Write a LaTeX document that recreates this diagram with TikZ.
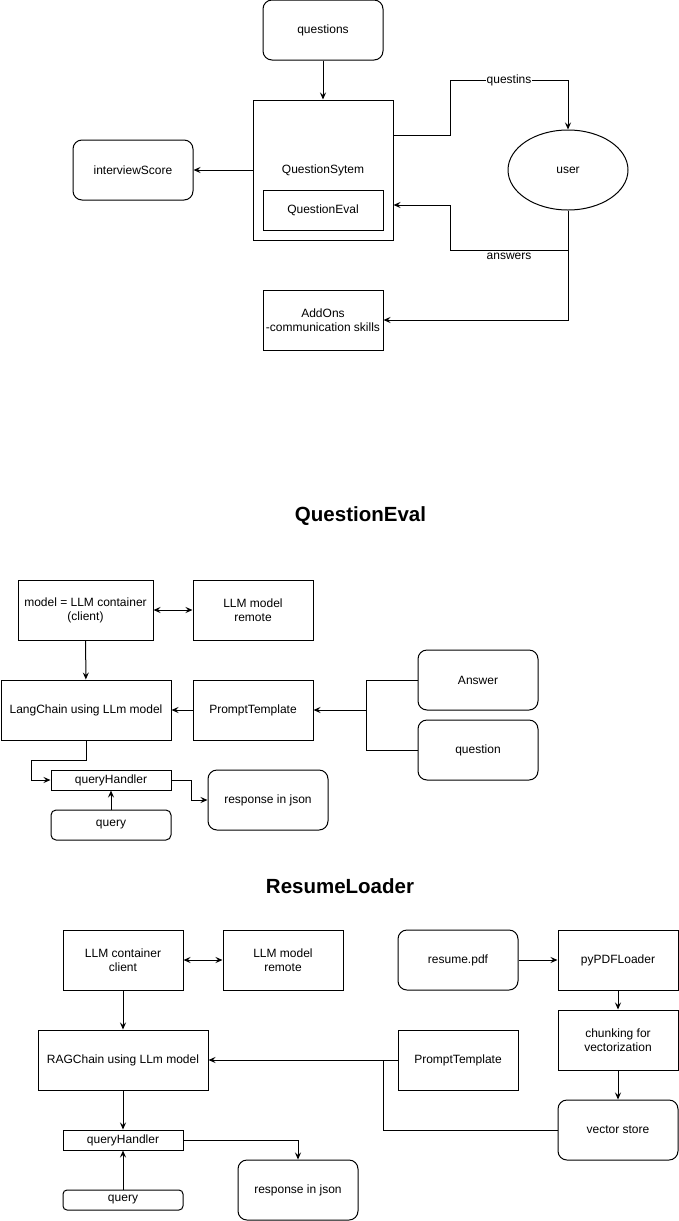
\documentclass[tikz,border=0pt]{standalone}
\usepackage{fontspec}
\setmainfont{Liberation Sans}
\usepackage{tikz}
\usetikzlibrary{arrows.meta,shapes.geometric}

\begin{document}
\begin{tikzpicture}[>={Stealth[length=7pt,width=6pt,inset=2.5pt]}, x=1pt, y=-1pt, line width=1pt,
        every node/.style={font=\fontsize{12}{14}\selectfont, align=center, inner sep=0pt},
        box/.style={draw, minimum width=120pt, minimum height=60pt},
        rbox/.style={box, rounded corners=9pt},
        thin box/.style={draw, minimum width=120pt, minimum height=20pt},
        lbl/.style={fill=white, inner xsep=1pt, inner ysep=2pt},
        heading/.style={font=\fontsize{20.5}{24}\selectfont\bfseries}]
        \useasboundingbox (0, 0) rectangle (679, 1221);

        \node[rbox] (questions) at (323, 30) {questions};
        \node[box, minimum width=140pt, minimum height=140pt] (qsys) at (323, 170) {QuestionSytem};
        \node[box, minimum height=40pt] (qeval) at (323, 210) {QuestionEval};
        \node[draw, ellipse, minimum width=120pt, minimum height=80pt] (user) at (568, 170) {user};
        \node[rbox] (score) at (133, 170) {interviewScore};
        \node[box] (addons) at (323, 320) {AddOns\\-communication skills};
        \path[draw, ->] (questions) -- (qsys);
        \path[draw, ->] (qsys) -- (score);
        \path[draw, ->] ([yshift=35pt]qsys.east) -- (450, 135) -- (450, 80) -- node[lbl] {questins} (568, 80) -- (user.north);
        \path[draw, ->] (user.south) -- (568, 250) -- node[lbl, yshift=-6pt] {answers} (450, 250) -- (450, 205) -- ([yshift=-35pt]qsys.east);
        \path[draw, ->] (user.south) |- (addons.east);

        \node[heading] (titleeval) at (360.5, 516) {QuestionEval};
        \node[box, minimum width=135pt] (model) at (85.5, 610) {model = LLM container\\(client)};
        \node[box] (remote1) at (253, 610) {LLM model\\remote};
        \node[box, minimum width=170pt] (lang) at (86, 710) {LangChain using LLm model};
        \node[box] (prompt1) at (253, 710) {PromptTemplate};
        \node[rbox] (answer) at (478, 680) {Answer};
        \node[rbox] (question) at (478, 750) {question};
        \node[thin box] (qh1) at (111, 780) {queryHandler};
        \node[thin box, minimum height=30pt, rounded corners=5pt] (query1) at (111, 825) {query};
        \node[rbox] (resp1) at (268, 800) {response in json};
        \coordinate (join1) at (366, 710);
        \path[draw, <->] (model) -- (remote1);
        \path[draw, ->] (model) -- (lang);
        \path[draw, ->] (prompt1) -- (lang);
        \path[draw, ->] (answer.west) -| (join1) -- (prompt1.east);
        \path[draw] (question.west) -| (join1);
        \path[draw, ->] (lang.south) |- (31, 760) |- (qh1.west);
        \path[draw, ->] (query1) -- (qh1);
        \path[draw, ->] (qh1.east) -- (191, 780) |- (resp1.west);

        \node[heading] (titleresume) at (340, 886) {ResumeLoader};
        \node[box] (llm2) at (123, 960) {LLM container\\client};
        \node[box] (remote2) at (283, 960) {LLM model\\remote};
        \node[box, minimum width=170pt] (rag) at (123, 1060) {RAGChain using LLm model};
        \node[thin box] (qh2) at (123, 1140) {queryHandler};
        \node[thin box, rounded corners=4pt] (query2) at (123, 1200) {query};
        \node[rbox] (resp2) at (298, 1190) {response in json};
        \node[rbox] (pdf) at (458, 960) {resume.pdf};
        \node[box] (loader) at (618, 960) {pyPDFLoader};
        \node[box] (chunk) at (618, 1040) {chunking for\\vectorization};
        \node[rbox] (store) at (618, 1130) {vector store};
        \node[box] (prompt2) at (458, 1060) {PromptTemplate};
        \coordinate (join2) at (383, 1060);
        \path[draw, <->] (llm2) -- (remote2);
        \path[draw, ->] (llm2) -- (rag);
        \path[draw, ->] (rag) -- (qh2);
        \path[draw, ->] (query2) -- (qh2);
        \path[draw, ->] (qh2.east) -| (resp2.north);
        \path[draw, ->] (pdf) -- (loader);
        \path[draw, ->] (loader) -- (chunk);
        \path[draw, ->] (chunk) -- (store);
        \path[draw, ->] (prompt2) -- (rag);
        \path[draw] (store.west) -| (join2);
    \end{tikzpicture}
\end{document}
